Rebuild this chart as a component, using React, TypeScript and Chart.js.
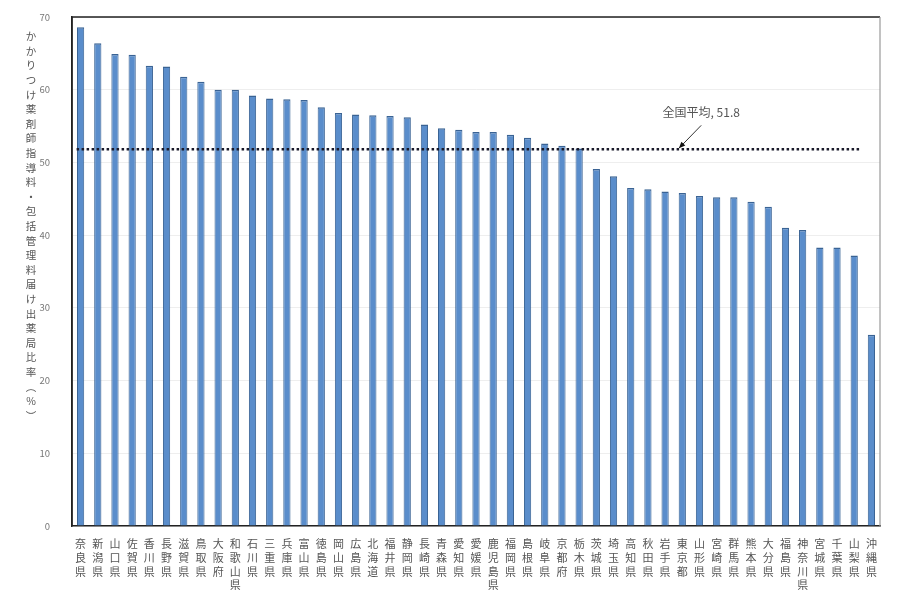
import React, { useEffect, useRef } from "react";
import { Chart, registerables } from "chart.js";

Chart.register(...registerables);

const prefectures: string[] = [
  "奈良県", "新潟県", "山口県", "佐賀県", "香川県", "長野県", "滋賀県", "鳥取県",
  "大阪府", "和歌山県", "石川県", "三重県", "兵庫県", "富山県", "徳島県", "岡山県",
  "広島県", "北海道", "福井県", "静岡県", "長崎県", "青森県", "愛知県", "愛媛県",
  "鹿児島県", "福岡県", "島根県", "岐阜県", "京都府", "栃木県", "茨城県", "埼玉県",
  "高知県", "秋田県", "岩手県", "東京都", "山形県", "宮崎県", "群馬県", "熊本県",
  "大分県", "福島県", "神奈川県", "宮城県", "千葉県", "山梨県", "沖縄県",
];

const ratios: number[] = [
  68.6, 66.4, 64.9, 64.8, 63.3, 63.2, 61.8, 61.1,
  60.0, 60.0, 59.2, 58.8, 58.7, 58.6, 57.6, 56.8,
  56.6, 56.5, 56.4, 56.2, 55.2, 54.7, 54.5, 54.2,
  54.2, 53.8, 53.4, 52.6, 52.3, 51.9, 49.1, 48.1,
  46.5, 46.3, 46.0, 45.8, 45.4, 45.2, 45.2, 44.6,
  43.9, 41.0, 40.7, 38.3, 38.3, 37.2, 26.3,
];

const nationalAverage = 51.8;
const averageLabel = "全国平均, 51.8";
const yTicks: number[] = [0, 10, 20, 30, 40, 50, 60, 70];
const yTitle = "かかりつけ薬剤師指導料・包括管理料届け出薬局比率︵%︶";

const JP_FONT = '"Noto Sans CJK JP", "Noto Sans", sans-serif';

const overlayPlugin = {
  id: "overlay",
  afterDatasetsDraw(chart: any) {
    const { ctx, chartArea, scales } = chart;
    const x = scales.x;
    const y = scales.y;
    ctx.save();

    // frame
    ctx.setLineDash([]);
    ctx.lineWidth = 1.5;
    ctx.strokeStyle = "#222";
    ctx.beginPath();
    ctx.moveTo(chartArea.left, chartArea.bottom);
    ctx.lineTo(chartArea.left, chartArea.top);
    ctx.lineTo(chartArea.right, chartArea.top);
    ctx.stroke();
    ctx.strokeStyle = "#999";
    ctx.lineWidth = 1.2;
    ctx.beginPath();
    ctx.moveTo(chartArea.right, chartArea.top);
    ctx.lineTo(chartArea.right, chartArea.bottom);
    ctx.stroke();

    // average dotted line
    const yAvg = y.getPixelForValue(nationalAverage);
    ctx.strokeStyle = "#1a1a2a";
    ctx.lineWidth = 2.5;
    ctx.setLineDash([2.5, 2.5]);
    ctx.beginPath();
    ctx.moveTo(x.getPixelForValue(0) - 4, yAvg);
    ctx.lineTo(x.getPixelForValue(prefectures.length - 2) + 6, yAvg);
    ctx.stroke();

    // annotation arrow
    ctx.setLineDash([]);
    const hx = x.getPixelForValue(34.8);
    const hy = yAvg - 1;
    const tx = x.getPixelForValue(36.1);
    const ty = y.getPixelForValue(nationalAverage + 3.3);
    ctx.strokeStyle = "#333";
    ctx.lineWidth = 1;
    ctx.beginPath();
    ctx.moveTo(tx, ty);
    ctx.lineTo(hx, hy);
    ctx.stroke();
    const ang = Math.atan2(hy - ty, hx - tx);
    ctx.fillStyle = "#111";
    ctx.beginPath();
    ctx.moveTo(hx, hy);
    ctx.lineTo(hx - 7 * Math.cos(ang - 0.4), hy - 7 * Math.sin(ang - 0.4));
    ctx.lineTo(hx - 7 * Math.cos(ang + 0.4), hy - 7 * Math.sin(ang + 0.4));
    ctx.closePath();
    ctx.fill();

    // annotation text
    ctx.fillStyle = "#555";
    ctx.font = `12px ${JP_FONT}`;
    ctx.textAlign = "center";
    ctx.textBaseline = "middle";
    ctx.fillText(averageLabel, x.getPixelForValue(36.1), y.getPixelForValue(nationalAverage + 5.1));

    // vertical y-axis title
    const chars = Array.from(yTitle);
    ctx.fillStyle = "#555";
    ctx.font = `10.5px ${JP_FONT}`;
    ctx.textAlign = "center";
    ctx.textBaseline = "top";
    const step = 14.6;
    let cy = chartArea.top + 14;
    for (const ch of chars) {
      ctx.fillText(ch, 31, cy);
      cy += step;
    }
    ctx.restore();
  },
};

export default function App() {
  const canvasRef = useRef<HTMLCanvasElement | null>(null);

  useEffect(() => {
    if (!canvasRef.current) return;
    const labels = prefectures.map((p) => Array.from(p));
    const chart = new Chart(canvasRef.current, {
      type: "bar",
      data: {
        labels,
        datasets: [
          {
            data: ratios,
            backgroundColor: "#5a8dcb",
            borderColor: "#3a6394",
            borderWidth: { top: 1.5, left: 1, right: 1, bottom: 0 },
            barPercentage: 0.42,
            categoryPercentage: 1,
          },
        ],
      },
      options: {
        responsive: true,
        maintainAspectRatio: false,
        animation: false,
        layout: { padding: { top: 17, right: 25, left: 0, bottom: 0 } },
        plugins: { legend: { display: false }, tooltip: { enabled: false } },
        scales: {
          x: {
            grid: { display: false },
            border: { display: true, color: "#222", width: 1.5 },
            ticks: {
              autoSkip: false,
              maxRotation: 0,
              minRotation: 0,
              color: "#555",
              padding: 3,
              font: { family: JP_FONT, size: 11, lineHeight: 1.25 },
            },
            afterFit: (s: any) => {
              s.height = 73;
              s.paddingLeft = 0;
              s.paddingRight = 0;
            },
          },
          y: {
            min: 0,
            max: 70,
            afterBuildTicks: (s: any) => {
              s.ticks = yTicks.map((v) => ({ value: v }));
            },
            grid: { color: "#eeeeee", drawTicks: false },
            border: { display: true, color: "#222", width: 1.5 },
            ticks: {
              color: "#777",
              padding: 22,
              font: { family: JP_FONT, size: 9.5 },
            },
            afterFit: (s: any) => {
              s.width = 72;
              s.paddingTop = 0;
              s.paddingBottom = 0;
            },
          },
        },
      },
      plugins: [overlayPlugin],
    } as any);
    return () => chart.destroy();
  }, []);

  return (
    <div
      style={{
        position: "fixed",
        left: 0,
        top: 0,
        width: 905,
        height: 599,
        background: "#fff",
      }}
    >
      <canvas ref={canvasRef} />
    </div>
  );
}
